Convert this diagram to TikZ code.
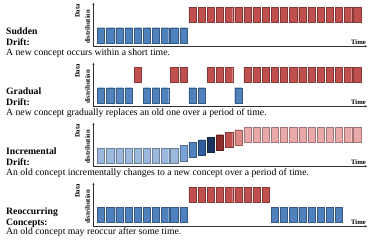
\documentclass[tikz,border=0pt]{standalone}
\usepackage{fontspec}
\setmainfont{Liberation Serif}
\usepackage{xcolor}
\usetikzlibrary{positioning, arrows.meta, shapes.geometric}
\definecolor{oldBlue}{HTML}{4F81BD}
\definecolor{newRed}{HTML}{C0504D}
\definecolor{paleBlue}{HTML}{9DB8DD}
\definecolor{midBlue}{HTML}{7BA2D6}
\definecolor{deepBlue}{HTML}{2F5F9E}
\definecolor{navyBlue}{HTML}{1C3560}
\definecolor{wineRed}{HTML}{8E2F2D}
\definecolor{pinkRed}{HTML}{DD8C8A}
\definecolor{paleRed}{HTML}{E8A9A8}

\begin{document}
\begin{tikzpicture}[x=1pt, y=-1pt,
    cyl/.style={cylinder, shape border rotate=90, aspect=0.6, minimum width=7.2pt,
      minimum height=15.4pt, inner sep=0pt, draw=#1!70!black, line width=0.3pt,
      cylinder uses custom fill, cylinder body fill=#1, cylinder end fill=#1!75!white},
    axis/.style={{Stealth[length=2.2pt,width=2.2pt]}-{Stealth[length=2.2pt,width=2.2pt]},
      line width=0.9pt, black!80},
    title/.style={font=\fontsize{9.7}{11.4}\selectfont\bfseries, align=left, inner sep=0pt},
    desc/.style={font=\fontsize{9.7}{11.4}\selectfont, inner sep=0pt},
    axlabel/.style={font=\fontsize{6.7}{7}\selectfont\bfseries, inner sep=0pt}]
    \useasboundingbox (0,0) rectangle (374,248);
    % axes and axis labels of the four panels
    \foreach \o/\n in {0/1,60/2,120/3,180/4}{
      \coordinate (ytop\n) at (93.5,\o+3);
      \coordinate (xend\n) at (367,\o+46.3);
      \draw[axis] (ytop\n) |- (xend\n);
      \node[axlabel, rotate=90] (data\n) at (77.5,\o+11) {Data};
      \node[axlabel, rotate=90] (distr\n) at (87.5,\o+27) {distribution};
      \node[axlabel, anchor=south east] (time\n) at (366,\o+44.8) {Time};
    }
    % sudden drift
    \foreach \k in {0,...,9} \node[cyl=oldBlue] (sa\k) at ({101+9.15*\k},35.5) {};
    \foreach \k in {10,...,28} \node[cyl=newRed] (sb\k) at ({101+9.15*\k},15) {};
    \node[title, anchor=base west] (title1) at (6,45.7) {Sudden\\Drift:};
    \node[desc, anchor=base west] (desc1) at (6,55.2) {A new concept occurs within a short time.};
    % gradual drift
    \foreach \k in {0,1,2,3,5,6,7,10,11,15} \node[cyl=oldBlue] (ga\k) at ({101+9.15*\k},95.5) {};
    \foreach \k in {4,8,9,12,13,14,16,17,...,28} \node[cyl=newRed] (gb\k) at ({101+9.15*\k},75) {};
    \node[title, anchor=base west] (title2) at (6,105.7) {Gradual\\Drift:};
    \node[desc, anchor=base west] (desc2) at (6,115.2) {A new concept gradually replaces an old one over a period of time.};
    % incremental drift
    \foreach \k in {0,...,8} \node[cyl=paleBlue] (ia\k) at ({101+9.15*\k},155.8) {};
    \foreach \k/\c/\s in {9/midBlue/2.5, 10/oldBlue/5.8, 11/deepBlue/8.2, 12/navyBlue/10.8,
        13/wineRed/13.3, 14/newRed/15.8, 15/pinkRed/18.3}
      \node[cyl=\c] (ic\k) at ({101+9.15*\k},155.8-\s) {};
    \foreach \k in {16,...,28} \node[cyl=paleRed] (ib\k) at ({101+9.15*\k},135) {};
    \node[title, anchor=base west] (title3) at (6,165.7) {Incremental\\Drift:};
    \node[desc, anchor=base west] (desc3) at (6,175.2) {An old concept incrementally changes to a new concept over a period of time.};
    % reoccurring concepts
    \foreach \k in {0,...,9,19,20,...,26} \node[cyl=oldBlue] (ra\k) at ({101+9.15*\k},215) {};
    \foreach \k in {10,...,18} \node[cyl=newRed] (rb\k) at ({101+9.15*\k},194.8) {};
    \node[title, anchor=base west] (title4) at (6,225.7) {Reoccurring\\Concepts:};
    \node[desc, anchor=base west] (desc4) at (6,234.5) {An old concept may reoccur after some time.};
  \end{tikzpicture}
\end{document}
